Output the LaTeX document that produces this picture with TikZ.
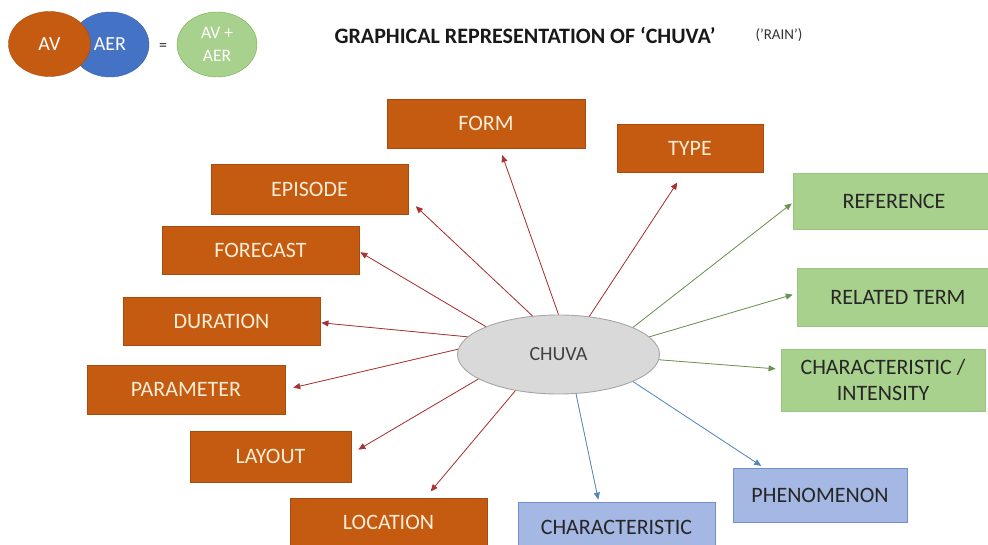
\documentclass[tikz,border=0pt]{standalone}
\usepackage{fontspec}
\setmainfont{Carlito}
\usetikzlibrary{shapes.geometric,arrows.meta}
\definecolor{avfill}{RGB}{197,90,17}
\definecolor{avdraw}{RGB}{170,75,14}
\definecolor{avtext}{RGB}{252,237,215}
\definecolor{aerfill}{RGB}{164,184,227}
\definecolor{aerdraw}{RGB}{112,143,203}
\definecolor{bothfill}{RGB}{169,209,142}
\definecolor{bothdraw}{RGB}{155,197,128}
\definecolor{avline}{RGB}{168,50,50}
\definecolor{aerline}{RGB}{84,134,186}
\definecolor{bothline}{RGB}{108,146,82}
\definecolor{darktext}{RGB}{38,38,38}
\tikzstyle{box}=[rectangle,inner sep=0pt,line width=0.9pt,font=\fontsize{22}{26}\selectfont]
\tikzstyle{avbox}=[box,fill=avfill,draw=avdraw,text=avtext]
\tikzstyle{aerbox}=[box,fill=aerfill,draw=aerdraw,text=darktext]
\tikzstyle{bothbox}=[box,fill=bothfill,draw=bothdraw,text=darktext]
\tikzstyle{centre}=[ellipse,inner sep=0pt,minimum width=202pt,minimum height=79pt,fill=black!15,draw=black!35,line width=0.9pt,text=black!75,font=\fontsize{20}{24}\selectfont]
\tikzstyle{link}=[line width=0.8pt,-{Triangle[length=7pt,width=6pt]}]
\tikzstyle{avlink}=[link,draw=avline,fill=avline]
\tikzstyle{aerlink}=[link,draw=aerline,fill=aerline]
\tikzstyle{bothlink}=[link,draw=bothline,fill=bothline]

\begin{document}
\begin{tikzpicture}[x=1pt,y=-1pt]
                    \useasboundingbox (0,0) rectangle (988,545);
                    \clip (0,0) rectangle (988,545);

                    % legend
                    \node (aer) at (110,44.5) [ellipse,inner sep=0pt,minimum width=78pt,minimum height=65pt,fill={rgb,255:red,68;green,114;blue,196},draw={rgb,255:red,58;green,98;blue,174},text=white,font=\fontsize{20}{24}\selectfont] {AER};
                    \node (av) at (49.5,44) [ellipse,inner sep=0pt,minimum width=82pt,minimum height=65pt,fill=avfill,draw=avdraw,text=white,font=\fontsize{20}{24}\selectfont] {AV};
                    \node (eq) at (163,47) [text=darktext,font=\fontsize{16}{18}\selectfont] {=};
                    \node (both) at (217,44.5) [ellipse,inner sep=0pt,minimum width=80pt,minimum height=65pt,fill=bothfill,draw={rgb,255:red,112;green,173;blue,71},text=white,align=center,font=\fontsize{17.5}{23}\selectfont] {AV +\\AER};

                    \node (title) at (331,35) [anchor=west,text=black!90,font=\bfseries\fontsize{22}{26}\selectfont] {GRAPHICAL REPRESENTATION OF ‘CHUVA’};
                    \node (rain) at (752,35) [anchor=west,text=black!80,font=\fontsize{15}{18}\selectfont] {('RAIN')};

                    % centre
                    \node (chuva) at (558.5,354.5) [centre] {CHUVA};

                    % AV
                    \node (form) at (486,123.5) [avbox,minimum width=198pt,minimum height=49pt] {FORM};
                    \node (type) at (690,148) [avbox,minimum width=146pt,minimum height=48pt] {TYPE};
                    \node (episode) at (309.5,189) [avbox,minimum width=197pt,minimum height=50pt] {EPISODE};
                    \node (forecast) at (260.5,250) [avbox,minimum width=197pt,minimum height=48pt] {FORECAST};
                    \node (duration) at (221.5,321) [avbox,minimum width=197pt,minimum height=48pt] {DURATION};
                    \node (parameter) at (186,389.5) [avbox,minimum width=198pt,minimum height=49pt] {PARAMETER};
                    \node (layout) at (270.5,456.5) [avbox,minimum width=161pt,minimum height=51pt] {LAYOUT};
                    \node (location) at (388.5,522.5) [avbox,minimum width=197pt,minimum height=49pt] {LOCATION};

                    % AER
                    \node (characteristic) at (616.5,527) [aerbox,minimum width=197pt,minimum height=50pt] {CHARACTERISTIC};
                    \node (phenomenon) at (820,495) [aerbox,minimum width=174pt,minimum height=54pt] {PHENOMENON};

                    % AV + AER
                    \node (reference) at (894,201) [bothbox,minimum width=202pt,minimum height=56pt] {REFERENCE};
                    \node (relatedterm) at (898,297) [bothbox,minimum width=202pt,minimum height=58pt] {RELATED TERM};
                    \node (intensity) at (883,380) [bothbox,minimum width=204pt,minimum height=62pt,align=center,font=\fontsize{22}{26}\selectfont] {CHARACTERISTIC /\\INTENSITY};

                    \draw [avlink,shorten >=7pt] (chuva.90) -- (form.299);
                    \draw [avlink,shorten >=12pt] (chuva.51) -- (type.256);
                    \draw [avlink,shorten >=10pt] (chuva.124) -- (episode.354);
                    \draw [avlink,shorten >=1pt] (chuva.159) -- (forecast.359);
                    \draw [avlink,shorten >=1pt] (chuva.169) -- (duration.359);
                    \draw [avlink,shorten >=8pt] (chuva.177) -- (parameter.east);
                    \draw [avlink,shorten >=8pt] (chuva.197) -- (layout.2);
                    \draw [avlink,shorten >=8pt] (chuva.220) -- (location.34);

                    \draw [aerlink,shorten >=2pt] (chuva.294) -- (characteristic.125);
                    \draw [aerlink,shorten >=3pt] (chuva.340) -- (phenomenon.154);

                    \draw [bothlink,shorten >=1pt] (chuva.20) -- (reference.181);
                    \draw [bothlink,shorten >=4pt] (chuva.11) -- (relatedterm.178);
                    \draw [bothlink,shorten >=5pt] (chuva.357) -- (intensity.174);
                \end{tikzpicture}
\end{document}
